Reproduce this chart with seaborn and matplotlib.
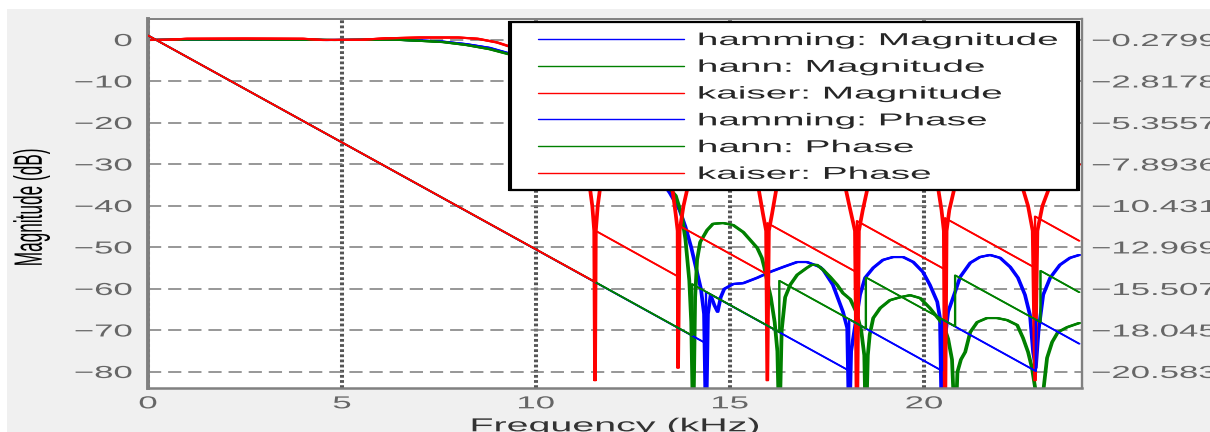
import matplotlib
matplotlib.use("Agg")
import matplotlib.pyplot as plt
import seaborn as sns
from matplotlib import patheffects as pe
from matplotlib.patches import Rectangle
from matplotlib.transforms import Affine2D

# ---------------- data ----------------
# frequency in kHz, magnitude in dB
hamming_mag_f = [0, 0.5, 1.0, 2.0, 3.0, 4.0, 4.6, 5.5, 6.2, 7.0, 7.6, 8.2, 8.8, 9.33,
                 10.0, 10.5, 11.0, 11.5, 12.0, 12.5, 13.0, 13.45, 13.7, 13.85, 14.0,
                 14.15, 14.25, 14.33, 14.38, 14.43, 14.5, 14.6, 14.68, 14.76, 14.85,
                 15.08, 15.34, 15.7, 16.03, 16.37, 16.73, 16.98, 17.32, 17.4, 17.65,
                 17.91, 18.02, 18.07, 18.12, 18.35, 18.48, 18.69, 18.94, 19.2, 19.46,
                 19.72, 19.97, 20.15, 20.34, 20.41, 20.46, 20.5, 20.62, 20.8, 20.93,
                 21.19, 21.44, 21.7, 21.96, 22.22, 22.42, 22.6, 22.73, 22.81, 22.88,
                 22.95, 23.07, 23.25, 23.5, 23.76, 24.0]
hamming_mag_db = [0, 0.05, 0.15, 0.15, 0.15, 0.1, 0.0, 0.05, 0.1, -0.1, -0.4, -1.0, -1.9, -3.3,
                  -6.0, -9.0, -13.0, -17.0, -21.5, -26.0, -31.0, -36.9, -41.0, -45.0, -50.0,
                  -56.0, -60.0, -66.0, -95.0, -66.0, -61.5, -64.0, -65.5, -62.0, -60.0,
                  -58.8, -58.6, -57.3, -55.9, -54.7, -53.5, -53.5, -54.7, -55.4, -59.0,
                  -65.5, -69.4, -95.0, -75.0, -61.4, -57.3, -54.9, -53.0, -52.3, -52.3,
                  -53.5, -55.9, -59.0, -63.1, -67.0, -95.0, -75.0, -65.5, -60.7, -57.1,
                  -53.7, -52.3, -51.8, -52.5, -54.7, -57.3, -61.4, -66.3, -75.2, -79.0,
                  -70.0, -61.4, -57.3, -54.2, -52.5, -51.8]

hann_mag_f = [0, 0.5, 1.0, 2.5, 4.0, 4.8, 5.5, 6.3, 7.0, 7.6, 8.2, 8.8, 9.33, 10.0, 10.5,
              11.0, 11.5, 12.0, 12.5, 13.0, 13.6, 13.75, 13.85, 13.95, 14.0, 14.05, 14.1,
              14.15, 14.23, 14.41, 14.56, 14.82, 15.08, 15.34, 15.52, 15.7, 15.82, 15.88,
              15.95, 16.05, 16.15, 16.22, 16.27, 16.33, 16.42, 16.55, 16.73, 16.98, 17.1,
              17.24, 17.4, 17.58, 17.76, 17.91, 18.1, 18.25, 18.38, 18.46, 18.5, 18.55,
              18.6, 18.69, 18.87, 19.12, 19.38, 19.64, 19.9, 20.15, 20.33, 20.5, 20.62,
              20.72, 20.8, 20.86, 20.95, 21.06, 21.19, 21.37, 21.62, 21.88, 22.14, 22.4,
              22.55, 22.68, 22.78, 22.9, 23.0, 23.08, 23.17, 23.3, 23.45, 23.69, 24.0]
hann_mag_db = [0, 0.05, 0.15, 0.15, 0.1, 0.0, 0.05, 0.1, -0.2, -0.5, -1.2, -2.2, -3.5, -6.5, -9.5,
               -13.5, -17.5, -22.0, -26.5, -31.0, -37.5, -42.0, -48.0, -58.0, -68.0, -95.0, -62.0,
               -53.0, -48.7, -45.8, -44.3, -44.1, -44.6, -46.3, -48.2, -50.1, -52.5, -54.7,
               -57.8, -62.0, -68.0, -75.0, -95.0, -70.0, -62.0, -59.0, -56.6, -54.9, -54.2,
               -54.2, -55.4, -57.1, -59.0, -61.0, -62.5, -65.5, -70.0, -76.0, -95.0, -76.0,
               -71.0, -67.0, -64.6, -62.7, -62.0, -61.5, -62.2, -64.6, -66.7, -68.7, -72.0,
               -77.0, -95.0, -80.0, -77.0, -75.2, -70.4, -68.0, -67.0, -67.0, -67.5, -68.7,
               -71.8, -75.2, -79.0, -86.0, -95.0, -84.0, -76.6, -72.8, -70.4, -69.2, -68.2]

kaiser_mag_f = [0, 0.5, 1.0, 2.5, 4.0, 4.5, 5.5, 6.1, 7.0, 8.0, 8.5, 9.0, 9.33, 10.0, 10.5,
                11.0, 11.3, 11.38, 11.45, 11.5, 11.52, 11.54, 11.59, 11.66, 11.75, 12.2,
                12.6, 13.0, 13.4, 13.5, 13.6, 13.65, 13.66, 13.7, 13.8, 13.92, 14.05, 14.8,
                15.6, 15.72, 15.85, 15.93, 15.96, 16.0, 16.08, 16.21, 16.35, 17.1, 17.85,
                17.96, 18.1, 18.22, 18.27, 18.32, 18.42, 18.56, 18.7, 19.4, 20.2, 20.35,
                20.45, 20.51, 20.54, 20.58, 20.65, 20.8, 20.95, 21.7, 22.4, 22.52, 22.68,
                22.8, 22.86, 22.92, 23.05, 23.25, 23.4, 24.0]
kaiser_mag_db = [0, 0.05, 0.3, 0.35, 0.3, 0.0, 0.05, 0.4, 0.6, 0.6, 0.3, -0.6, -1.6, -5.0, -10.0,
                 -18.0, -27.0, -35.0, -40.0, -46.0, -82.0, -46.0, -40.0, -35.0, -30.0, -23.0,
                 -22.0, -25.0, -31.0, -35.0, -42.0, -46.0, -79.0, -46.0, -40.0, -35.0, -30.0, -26.0,
                 -31.0, -35.0, -42.0, -46.0, -82.0, -46.0, -42.0, -35.0, -30.0, -28.0, -31.0,
                 -35.0, -41.0, -46.0, -95.0, -46.0, -41.0, -35.0, -30.0, -29.0, -31.0, -35.0,
                 -41.0, -46.0, -95.0, -46.0, -41.0, -35.0, -30.0, -30.0, -30.0, -35.0, -40.0,
                 -46.0, -82.0, -46.0, -40.0, -35.0, -30.0, -30.0]

# unwrapped phase, expressed on the magnitude scale (right axis maps it to radians)
hamming_phase_f = [0, 14.38, 14.38, 18.07, 18.07, 20.46, 20.46, 22.88, 22.88, 24.0]
hamming_phase = [1.1, -73.1, -60.7, -79.7, -67.3, -79.7, -67.3, -79.8, -67.4, -73.2]

hann_phase_f = [0, 14.02, 14.02, 16.27, 16.27, 18.5, 18.5, 20.8, 20.8, 23.0, 23.0, 24.0]
hann_phase = [1.1, -71.2, -58.8, -70.4, -58.0, -69.5, -57.2, -69.0, -56.7, -68.0, -55.6, -60.8]

kaiser_phase_f = [0, 11.52, 11.52, 13.66, 13.66, 15.96, 15.96, 18.27, 18.27, 20.54, 20.54,
                  22.86, 22.86, 24.0]
kaiser_phase = [1.1, -58.3, -45.9, -57.0, -44.6, -56.5, -44.1, -56.0, -43.6, -55.3, -42.9,
                -54.9, -42.5, -48.4]

freq_ticks = [0, 5, 10, 15, 20]
mag_ticks = [0, -10, -20, -30, -40, -50, -60, -70, -80]
phase_tick_labels = ["\u22120.2799", "\u22122.8178", "\u22125.3557", "\u22127.8936",
                     "\u221210.4315", "\u221212.9694", "\u221215.5073", "\u221218.0452",
                     "\u221220.5831"]

window_names = ["hamming", "hann", "kaiser"]
window_colors = ["#0000ff", "#008000", "#ff0000"]


# ---------------- styling helpers ----------------
class WideGlyphs(pe.AbstractPathEffect):
    """Render text with horizontally widened glyphs around an anchor."""

    def __init__(self, sx=2.0, anchor="center"):
        super().__init__()
        self._sx = sx
        self._anchor = anchor

    def draw_path(self, renderer, gc, tpath, affine, rgbFace=None):
        ext = tpath.get_extents(affine)
        if self._anchor == "left":
            x0 = ext.x0
        elif self._anchor == "right":
            x0 = ext.x1
        else:
            x0 = 0.5 * (ext.x0 + ext.x1)
        wide = affine + Affine2D().translate(-x0, 0).scale(self._sx, 1.0).translate(x0, 0)
        renderer.draw_path(gc, tpath, wide, rgbFace)


def wide_pen(d):
    return [pe.Stroke(offset=(-d, 0)), pe.Stroke(offset=(d, 0)), pe.Normal()]


sns.set_theme(style="white")
plt.rcParams["font.family"] = ["Liberation Sans", "DejaVu Sans"]
plt.rcParams["lines.scale_dashes"] = False

W, H = 1210, 432
fig = plt.figure(figsize=(W / 100, H / 100), dpi=100, facecolor="white")
fig.patches.append(Rectangle((7 / W, 0), 1, (H - 9) / H, transform=fig.transFigure,
                             facecolor="#f0f0f0", edgecolor="none", zorder=-10))

L, R, T, B = 148, 1082, 19, 388
ax = fig.add_axes([L / W, (H - B) / H, (R - L) / W, (B - T) / H])
ax.set_facecolor("white")

mag_series = [(hamming_mag_f, hamming_mag_db), (hann_mag_f, hann_mag_db),
              (kaiser_mag_f, kaiser_mag_db)]
phase_series = [(hamming_phase_f, hamming_phase), (hann_phase_f, hann_phase),
                (kaiser_phase_f, kaiser_phase)]

handles = []
labels = []
for name, col, (fx, fy) in zip(window_names, window_colors, mag_series):
    sns.lineplot(x=fx, y=fy, ax=ax, color=col, lw=1.5, estimator=None, sort=False)
    ln = ax.lines[-1]
    ln.set_path_effects(wide_pen(0.6))
    ln.set_zorder(2)
    handles.append(ln)
    labels.append(f"{name}: Magnitude")
for name, col, (fx, fy) in zip(window_names, window_colors, phase_series):
    sns.lineplot(x=fx, y=fy, ax=ax, color=col, lw=1.0, estimator=None, sort=False)
    ln = ax.lines[-1]
    ln.set_path_effects(wide_pen(0.35))
    ln.set_zorder(3)
    handles.append(ln)
    labels.append(f"{name}: Phase")

ax.set_xlim(0, 24.07)
ax.set_ylim(-83.86, 5.06)
ax.set_xticks(freq_ticks)
ax.set_yticks(mag_ticks)

ax.xaxis.grid(True, color="#555555", lw=2.9, ls=(0, (2.0, 1.7)))
ax.yaxis.grid(True, color="#7a7a7a", lw=1.1, ls=(0, (9.5, 5.0)))
ax.set_axisbelow(True)

for side, lw in [("left", 2.8), ("right", 1.7), ("top", 1.4), ("bottom", 1.8)]:
    ax.spines[side].set_visible(True)
    ax.spines[side].set_color("#808080")
    ax.spines[side].set_linewidth(lw)

tick_col = "#666666"
ax.tick_params(axis="both", length=0, labelsize=12.5, labelcolor=tick_col)
ax.tick_params(axis="y", pad=11.5)
ax.tick_params(axis="x", pad=6.0)
for lab in ax.get_yticklabels():
    lab.set_path_effects([WideGlyphs(2.0, "right")])
for lab in ax.get_xticklabels():
    lab.set_path_effects([WideGlyphs(2.0, "center")])

ax.set_xlabel("Frequency (kHz)", fontsize=13.5, color="#333333", labelpad=5)
ax.xaxis.label.set_path_effects([WideGlyphs(2.1, "center")])
ax.set_ylabel("Magnitude (dB)", fontsize=12.4, color="black")
ax.yaxis.set_label_coords((39 - L) / (R - L), 0.49)
ax.yaxis.label.set_path_effects([WideGlyphs(2.3, "center")])

# right axis: phase in radians at the same positions
ax2 = ax.twinx()
ax2.set_ylim(ax.get_ylim())
ax2.set_yticks(mag_ticks, labels=phase_tick_labels)
ax2.tick_params(axis="y", length=0, labelsize=12.5, labelcolor=tick_col, pad=7.2)
for s in ax2.spines.values():
    s.set_visible(False)
ax2.grid(False)
for lab in ax2.get_yticklabels():
    lab.set_path_effects([WideGlyphs(2.0, "left")])


def axx(px):
    return (px - L) / (R - L)


def axy(py):
    return (B - py) / (B - T)


# legend box
box_x0, box_x1, box_y0, box_y1 = 510, 1078, 22, 190
ax.add_patch(Rectangle((axx(box_x0), axy(box_y1)), axx(box_x1) - axx(box_x0),
                       axy(box_y0) - axy(box_y1), transform=ax.transAxes,
                       facecolor="white", edgecolor="none", zorder=4.4))
frame = Rectangle((axx(box_x0), axy(box_y1)), axx(box_x1) - axx(box_x0),
                  axy(box_y0) - axy(box_y1), transform=ax.transAxes,
                  facecolor="none", edgecolor="black", lw=1.5, zorder=4.6)
frame.set_path_effects(wide_pen(0.4))
ax.add_patch(frame)

leg = ax.legend(handles, labels, loc="upper left",
                bbox_to_anchor=(axx(538), axy(33)), frameon=False,
                fontsize=12.4, handlelength=8.45, handletextpad=0.86,
                labelspacing=0.68, borderpad=0, borderaxespad=0)
leg.set_zorder(5)
for txt in leg.get_texts():
    txt.set_color("#262626")
    txt.set_path_effects([WideGlyphs(2.25, "left")])
for lh in leg.get_lines():
    lh.set_path_effects([pe.Normal()])
    lh.set_linewidth(1.0)

fig.savefig("out.png", dpi=100, facecolor=fig.get_facecolor())
